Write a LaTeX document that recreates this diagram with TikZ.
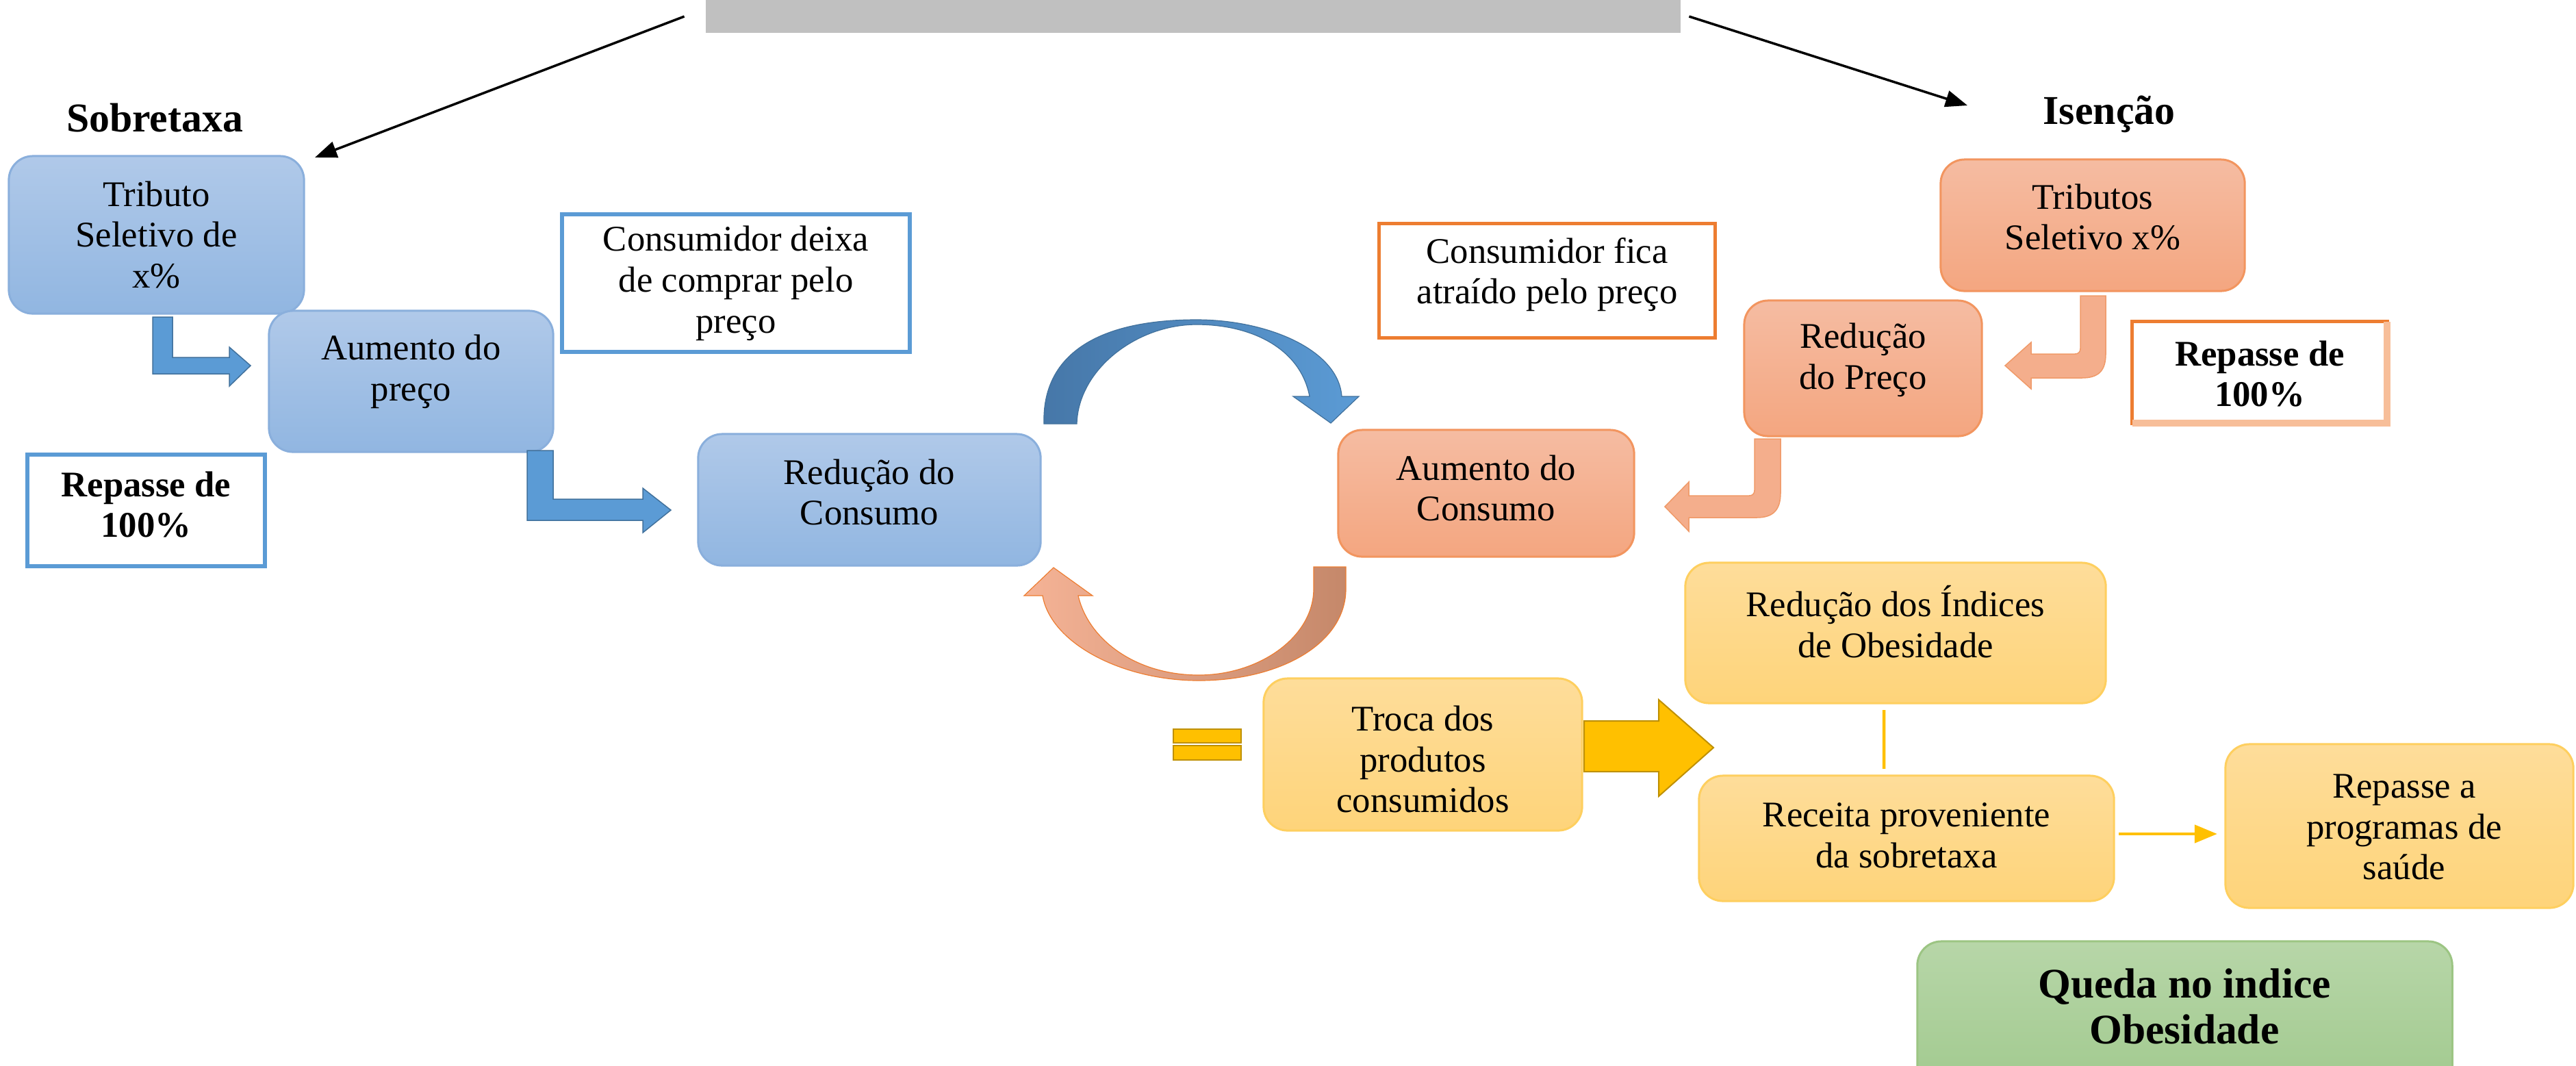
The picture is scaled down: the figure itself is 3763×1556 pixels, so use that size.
\documentclass[tikz,border=0pt]{standalone}
\usepackage{fontspec}
\setmainfont{Liberation Serif}
\usetikzlibrary{arrows.meta}
\definecolor{bluetop}{HTML}{B0C9E9}
\definecolor{bluebot}{HTML}{91B6E1}
\definecolor{blueedge}{HTML}{8AAFDC}
\definecolor{orgtop}{HTML}{F5BCA2}
\definecolor{orgbot}{HTML}{F4A680}
\definecolor{orgedge}{HTML}{F2955F}
\definecolor{yeltop}{HTML}{FEDD9A}
\definecolor{yelbot}{HTML}{FED47A}
\definecolor{yeledge}{HTML}{FECF5F}
\definecolor{grntop}{HTML}{B7D6A8}
\definecolor{grnbot}{HTML}{A0C98D}
\definecolor{grnedge}{HTML}{9CC583}
\definecolor{accblue}{HTML}{5B9BD5}
\definecolor{darkblue}{HTML}{41719C}
\definecolor{arcblueL}{HTML}{4677A8}
\definecolor{accorange}{HTML}{ED7D31}
\definecolor{lightorange}{HTML}{F7BE99}
\definecolor{arcorgL}{HTML}{F5B396}
\definecolor{arcorgR}{HTML}{C5886A}
\definecolor{elbowfill}{HTML}{F4AE8C}
\definecolor{elbowedge}{HTML}{F09A68}
\definecolor{gold}{HTML}{FFC000}
\definecolor{darkgold}{HTML}{BF9000}
\definecolor{bargray}{HTML}{C0C0C0}
\tikzset{
  box/.style={rounded corners=0.35cm, line width=0.03cm, inner sep=0pt, outer sep=0pt},
  bluebox/.style={box, draw=blueedge, top color=bluetop, bottom color=bluebot},
  orgbox/.style={box, draw=orgedge, top color=orgtop, bottom color=orgbot},
  yelbox/.style={box, draw=yeledge, top color=yeltop, bottom color=yelbot},
  grnbox/.style={box, draw=grnedge, top color=grntop, bottom color=grnbot},
  wbluebox/.style={draw=accblue, fill=white, line width=0.06cm, inner sep=0pt, outer sep=0pt},
  worgbox/.style={draw=accorange, fill=white, line width=0.05cm, inner sep=0pt, outer sep=0pt},
  txt/.style={align=center, inner sep=0pt, font=\fontsize{15}{17}\selectfont},
  btxt/.style={align=center, inner sep=0pt, font=\fontsize{15}{17}\selectfont\bfseries},
  headtxt/.style={inner sep=0pt, font=\fontsize{17}{19}\selectfont\bfseries},
  qtxt/.style={align=center, inner sep=0pt, font=\fontsize{17.5}{19}\selectfont\bfseries},
  blkarrow/.style={draw=black, line width=0.035cm, -{Triangle[length=0.32cm,width=0.24cm]}},
  blueelbow/.style={fill=accblue, draw=darkblue, line width=0.015cm},
  orgelbow/.style={fill=elbowfill, draw=elbowedge, line width=0.015cm},
  goldshape/.style={fill=gold, draw=darkgold, line width=0.02cm},
  yline/.style={draw=gold, line width=0.045cm},
  yarrow/.style={draw=gold, line width=0.045cm, -{Triangle[length=0.33cm,width=0.26cm]}},
}
\begin{document}
\begin{tikzpicture}[x=0.01cm, y=-0.01cm]
\useasboundingbox (0,0) rectangle (3763,1556);
\fill[white] (0,0) rectangle (3763,1556);

% top grey bar
\node[fill=bargray, minimum width=14.24cm, minimum height=0.48cm, inner sep=0pt, outer sep=0pt] (bar) at (1743,24) {};

% headers
\node[headtxt] (sob) at (226,172) {Sobretaxa};
\node[headtxt] (isen) at (3081,167) {Isenção};

% black arrows
\coordinate (sobTip) at (460,230);
\coordinate (isenTip) at (2874,154);
\draw[blkarrow] ([xshift=-0.31cm]bar.west) -- (sobTip);
\draw[blkarrow] ([xshift=0.12cm]bar.east) -- (isenTip);

% blue side
\node[bluebox, minimum width=4.31cm, minimum height=2.30cm] (trib) at (228.5,343) {};
\node[txt] (tribt) at (228.5,343) {Tributo\\Seletivo de\\x\%};
\node[bluebox, minimum width=4.15cm, minimum height=2.06cm] (aum) at (600.5,557) {};
\node[txt] (aumt) at (600.5,543) {Aumento do\\preço};
\node[bluebox, minimum width=5.00cm, minimum height=1.92cm] (redc) at (1270,730) {};
\node[txt] (redct) at (1270,719) {Redução do\\Consumo};
\node[wbluebox, minimum width=5.08cm, minimum height=2.01cm] (deixa) at (1075,413.5) {};
\node[txt] (deixat) at (1075,414) {Consumidor deixa\\de comprar pelo\\preço};
\node[wbluebox, minimum width=3.47cm, minimum height=1.63cm] (rep1) at (213.5,745.5) {};
\node[btxt] (rep1t) at (213.5,737) {Repasse de\\100\%};

% blue elbow arrows
\path[blueelbow] (223,463) -- (252,463) -- (252,522) -- (335,522) -- (335,507) -- (366,534) -- (335,564) -- (335,546) -- (223,546) -- cycle;
\path[blueelbow] (770,658) -- (808,658) -- (808,729) -- (939,729) -- (939,713) -- (980,745) -- (939,778) -- (939,760) -- (770,760) -- cycle;

% orange side
\node[orgbox, minimum width=4.44cm, minimum height=1.92cm] (tribs) at (3057,329) {};
\node[txt] (tribst) at (3057,317) {Tributos\\Seletivo x\%};
\node[orgbox, minimum width=3.47cm, minimum height=1.98cm] (redp) at (2721.5,538) {};
\node[txt] (redpt) at (2721.5,526) {Redução\\do Preço};
\node[worgbox, minimum width=3.72cm, minimum height=1.48cm] (rep2) at (3301,544) {};
\draw[lightorange, line width=0.1cm] (rep2.north east) -- (rep2.south east) -- (rep2.south west);
\node[btxt] (rep2t) at (3301,546) {Repasse de\\100\%};
\node[worgbox, minimum width=4.90cm, minimum height=1.66cm] (fica) at (2260,410) {};
\node[txt] (ficat) at (2260,401) {Consumidor fica\\atraído pelo preço};
\node[orgbox, minimum width=4.32cm, minimum height=1.85cm] (aumc) at (2171,720.5) {};
\node[txt] (aumct) at (2171,713) {Aumento do\\Consumo};

% orange elbow arrows
\path[orgelbow] (3039,432) -- (3076,432) -- (3076,517) .. controls (3076,542) and (3065,552) .. (3041,552) -- (2967,552) -- (2967,568) -- (2929,534) -- (2967,500) -- (2967,517) -- (3031,517) .. controls (3036,517) and (3039,514) .. (3039,509) -- cycle;
\path[orgelbow] (2563,641) -- (2601,641) -- (2601,720) .. controls (2601,745) and (2590,756) .. (2566,756) -- (2467,756) -- (2467,776) -- (2432,740) -- (2467,704) -- (2467,724) -- (2555,724) .. controls (2560,724) and (2563,721) .. (2563,716) -- cycle;

% cycle arrows
\path[draw=darkblue, line width=0.012cm, left color=arcblueL, right color=accblue]
  (1525,619) .. controls (1522,520) and (1600,467) .. (1748,467)
  .. controls (1850,467) and (1955,510) .. (1960,579) -- (1985,579) -- (1944,618) -- (1889,579) -- (1913,579)
  .. controls (1900,510) and (1830,474) .. (1748,474)
  .. controls (1660,474) and (1575,540) .. (1573,619) -- cycle;
\path[draw=accorange, line width=0.012cm, left color=arcorgL, right color=arcorgR]
  (1919,828) -- (1966,828) -- (1966,860) .. controls (1966,940) and (1870,994) .. (1751,994)
  .. controls (1640,994) and (1535,940) .. (1523,870) -- (1496,870) -- (1539,829) -- (1596,870) -- (1575,870)
  .. controls (1590,935) and (1660,986) .. (1751,986)
  .. controls (1840,986) and (1919,930) .. (1919,860) -- cycle;

% yellow part
\path[goldshape] (1714,1065) rectangle (1813,1085);
\path[goldshape] (1714,1089) rectangle (1813,1110);
\node[yelbox, minimum width=4.65cm, minimum height=2.22cm] (troca) at (2078.5,1102) {};
\node[txt] (trocat) at (2078.5,1109) {Troca dos\\produtos\\consumidos};
\path[goldshape] (2314,1053) -- (2423,1053) -- (2423,1022) -- (2503,1092) -- (2423,1163) -- (2423,1127) -- (2314,1127) -- cycle;
\node[yelbox, minimum width=6.14cm, minimum height=2.05cm] (obes) at (2769,924.5) {};
\node[txt] (obest) at (2769,908) {Redução dos Índices\\de Obesidade};
\node[yelbox, minimum width=6.06cm, minimum height=1.83cm] (rec) at (2785,1224.5) {};
\node[txt] (rect) at (2785,1220) {Receita proveniente\\da sobretaxa};
\node[yelbox, minimum width=5.08cm, minimum height=2.39cm] (rep) at (3505,1206.5) {};
\node[txt] (rept) at (3512,1208) {Repasse a\\programas de\\saúde};
\draw[yline] ([xshift=-0.17cm,yshift=-0.1cm]obes.south) -- ([xshift=-0.33cm,yshift=0.1cm]rec.north);
\draw[yarrow] ([xshift=0.07cm,yshift=0.065cm]rec.east) -- ([xshift=-0.12cm,yshift=0.065cm]rec.east -| rep.west);

% green box (cut by bottom edge)
\begin{scope}
\clip (0,0) rectangle (3763,1556);
\node[grnbox, minimum width=7.81cm, minimum height=2.30cm] (queda) at (3191.5,1490) {};
\end{scope}
\node[qtxt] (quedat) at (3191,1470) {Queda no indice\\Obesidade};
\end{tikzpicture}
\end{document}
